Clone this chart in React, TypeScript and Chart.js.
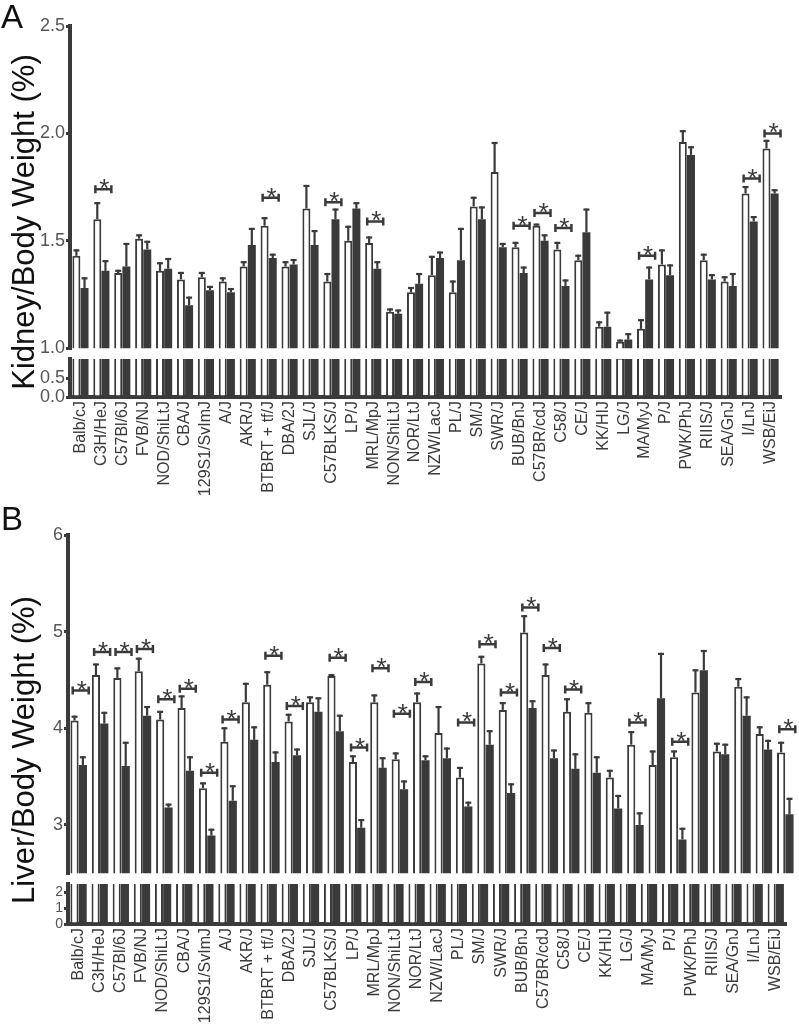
import React, { useEffect, useRef } from 'react';
import { Chart, registerables } from 'chart.js';
Chart.register(...registerables);

const strains = ['Balb/cJ','C3H/HeJ','C57Bl/6J','FVB/NJ','NOD/ShiLtJ','CBA/J','129S1/SvImJ','A/J','AKR/J','BTBRT + tf/J','DBA/2J','SJL/J','C57BLKS/J','LP/J','MRL/MpJ','NON/ShiLtJ','NOR/LtJ','NZW/LacJ','PL/J','SM/J','SWR/J','BUB/BnJ','C57BR/cdJ','C58/J','CE/J','KK/HIJ','LG/J','MA/MyJ','P/J','PWK/PhJ','RIIIS/J','SEA/GnJ','I/LnJ','WSB/EiJ'];

// Panel A: kidney / body weight (%)
const kidneyOpen = [1.43,1.60,1.35,1.51,1.36,1.32,1.33,1.31,1.38,1.57,1.38,1.65,1.31,1.50,1.49,1.17,1.26,1.34,1.26,1.66,1.82,1.47,1.57,1.46,1.41,1.10,1.03,1.09,1.39,1.96,1.41,1.31,1.72,1.93];
const kidneyOpenErr = [0.03,0.08,0.015,0.02,0.04,0.035,0.025,0.02,0.025,0.04,0.025,0.11,0.04,0.07,0.03,0.015,0.025,0.09,0.055,0.045,0.14,0.025,0.01,0.035,0.025,0.025,0.01,0.045,0.07,0.055,0.03,0.025,0.035,0.04];
const kidneyFilled = [1.28,1.36,1.38,1.46,1.37,1.20,1.27,1.26,1.48,1.42,1.39,1.48,1.60,1.65,1.37,1.16,1.30,1.42,1.41,1.60,1.47,1.35,1.50,1.29,1.54,1.10,1.04,1.32,1.34,1.90,1.32,1.29,1.59,1.72];
const kidneyFilledErr = [0.05,0.05,0.11,0.04,0.05,0.04,0.02,0.02,0.08,0.02,0.025,0.07,0.05,0.03,0.035,0.02,0.05,0.03,0.15,0.06,0.02,0.03,0.03,0.03,0.11,0.07,0.03,0.06,0.05,0.04,0.025,0.06,0.025,0.02];
const kidneySig = [null,1.74,null,null,null,null,null,null,null,1.70,null,null,1.68,null,1.59,null,null,null,null,null,null,1.57,1.63,1.56,null,null,null,1.43,null,null,null,null,1.79,2.00];
const kidneyUpperTicks = [1.0,1.5,2.0,2.5];
const kidneyLowerTicks = [0.0,0.5];

// Panel B: liver / body weight (%)
const liverOpen = [4.08,4.55,4.52,4.59,4.09,4.21,3.38,3.86,4.27,4.45,4.07,4.27,4.54,3.65,4.27,3.68,4.27,3.95,3.49,4.67,4.19,4.99,4.55,4.17,4.16,3.49,3.83,3.62,3.70,4.37,3.76,4.43,3.94,3.75];
const liverOpenErr = [0.05,0.12,0.11,0.14,0.09,0.13,0.06,0.15,0.20,0.14,0.08,0.06,0.02,0.07,0.08,0.07,0.10,0.28,0.11,0.08,0.08,0.18,0.12,0.14,0.11,0.08,0.14,0.15,0.07,0.24,0.09,0.09,0.08,0.11];
const liverFilled = [3.62,4.05,3.61,4.13,3.18,3.56,2.89,3.25,3.88,3.65,3.72,4.17,3.97,2.97,3.59,3.37,3.67,3.69,3.19,3.83,3.33,4.21,3.69,3.58,3.54,3.17,3.00,4.31,2.85,4.60,3.73,4.13,3.78,3.11];
const liverFilledErr = [0.09,0.12,0.25,0.10,0.04,0.15,0.07,0.16,0.14,0.11,0.07,0.15,0.17,0.09,0.11,0.09,0.05,0.11,0.05,0.15,0.10,0.08,0.09,0.16,0.17,0.14,0.13,0.47,0.12,0.21,0.11,0.20,0.10,0.17];
const liverSig = [4.39,4.79,4.79,4.82,4.30,4.41,3.54,4.09,null,4.75,4.23,null,4.73,3.80,4.62,4.15,4.48,null,4.06,4.87,4.37,5.25,4.83,4.40,null,null,4.06,null,3.86,null,null,null,null,3.99];
const liverUpperTicks = [3,4,5,6];
const liverLowerTicks = [0,1,2];

const INK = '#3a3a3a';
const FONT = "'Liberation Sans', Arial, sans-serif";

const annotPlugin = {
  id: 'annot',
  afterDatasetsDraw(chart: any, _args: any, opts: any) {
    if (!opts || !opts.enabled) return;
    const ctx = chart.ctx;
    const ys = chart.scales.y;
    const xs = chart.scales.x;
    ctx.save();
    ctx.strokeStyle = INK;
    ctx.fillStyle = INK;
    ctx.lineCap = 'butt';
    (opts.errors as number[][]).forEach((errs, di) => {
      const meta = chart.getDatasetMeta(di);
      const vals = chart.data.datasets[di].data as number[];
      meta.data.forEach((bar: any, i: number) => {
        const top = ys.getPixelForValue(vals[i]);
        const et = ys.getPixelForValue(vals[i] + errs[i]);
        ctx.lineWidth = 2.2;
        ctx.beginPath();
        ctx.moveTo(bar.x, top);
        ctx.lineTo(bar.x, et);
        ctx.stroke();
        ctx.lineWidth = 2.2;
        ctx.beginPath();
        ctx.moveTo(bar.x - 3, et + 1);
        ctx.lineTo(bar.x + 3, et + 1);
        ctx.stroke();
      });
    });
    (opts.sig as (number | null)[]).forEach((lv, i) => {
      if (lv == null) return;
      const cx = xs.getPixelForValue(i);
      const py = ys.getPixelForValue(lv);
      const x0 = cx - 6, x1 = cx + 10;
      ctx.lineWidth = 2.5;
      ctx.beginPath();
      ctx.moveTo(x0, py); ctx.lineTo(x1, py);
      ctx.moveTo(x0, py - 4); ctx.lineTo(x0, py + 4);
      ctx.moveTo(x1, py - 4); ctx.lineTo(x1, py + 4);
      ctx.stroke();
      ctx.font = `26px ${FONT}`;
      ctx.textAlign = 'center';
      ctx.textBaseline = 'alphabetic';
      ctx.fillText('*', (x0 + x1) / 2 + 1, py + 8);
    });
    ctx.restore();
  },
};

type PanelProps = {
  top: number; height: number; padTop: number; padBottom: number; padRight: number;
  yWidth: number; xHeight?: number; min: number; max: number; ticks: number[];
  tickSize: number; decimals: number; showX: boolean;
  open: number[]; filled: number[]; errs?: number[][]; sig?: (number | null)[];
};

function Panel(p: PanelProps) {
  const ref = useRef<HTMLCanvasElement>(null);
  useEffect(() => {
    if (!ref.current) return;
    const chart = new Chart(ref.current, {
      type: 'bar',
      data: {
        labels: strains,
        datasets: [
          { label: 'open', data: p.open, backgroundColor: '#ffffff', borderColor: INK, borderWidth: 2, borderSkipped: 'start', categoryPercentage: 0.78, barPercentage: 0.98, clip: 0 } as any,
          { label: 'filled', data: p.filled, backgroundColor: INK, borderColor: INK, borderWidth: 0, categoryPercentage: 0.78, barPercentage: 0.98, clip: 0 } as any,
        ],
      },
      options: {
        responsive: false,
        animation: false,
        devicePixelRatio: 1,
        layout: { padding: { top: p.padTop, bottom: p.padBottom, left: 0, right: p.padRight } },
        plugins: {
          legend: { display: false },
          tooltip: { enabled: false },
          annot: { enabled: !!p.errs, errors: p.errs || [], sig: p.sig || [] },
        } as any,
        scales: {
          x: {
            display: p.showX,
            grid: { display: false, drawTicks: false },
            border: { display: true, width: 4, color: INK },
            ticks: { autoSkip: false, maxRotation: 90, minRotation: 90, color: INK, padding: 4, font: { family: FONT, size: 16 } },
            afterFit: (s: any) => { if (p.xHeight) s.height = p.xHeight; },
          },
          y: {
            min: p.min,
            max: p.max,
            afterBuildTicks: (s: any) => { s.ticks = p.ticks.map((v) => ({ value: v })); },
            afterFit: (s: any) => { s.width = p.yWidth; },
            grid: { display: true, drawOnChartArea: false, drawTicks: true, tickLength: 4, color: INK, lineWidth: 3 },
            border: { display: true, width: 4, color: INK },
            ticks: { color: '#555', padding: 1, font: { family: FONT, size: p.tickSize }, callback: (v: any) => Number(v).toFixed(p.decimals) },
          },
        },
      },
      plugins: [annotPlugin],
    });
    return () => chart.destroy();
  }, []);
  return <canvas ref={ref} width={799} height={p.height} style={{ position: 'absolute', left: 0, top: p.top, width: 799, height: p.height }} />;
}

const titleStyle = (cx: number, cy: number): React.CSSProperties => ({
  position: 'absolute', left: cx, top: cy, transform: 'translate(-50%, -50%) rotate(-90deg)',
  whiteSpace: 'nowrap', fontFamily: FONT, fontSize: 31, color: '#111', lineHeight: 1,
});

export default function App() {
  return (
    <div style={{ position: 'absolute', left: 0, top: 0, width: 799, height: 1034, overflow: 'hidden', background: '#fff' }}>
      <Panel top={0} height={360} padTop={26} padBottom={11} padRight={18} yWidth={70} min={1.0} max={2.5} ticks={kidneyUpperTicks} tickSize={18} decimals={1} showX={false}
        open={kidneyOpen} filled={kidneyFilled} errs={[kidneyOpenErr, kidneyFilledErr]} sig={kidneySig} />
      <Panel top={340} height={170} padTop={19} padBottom={0} padRight={18} yWidth={70} xHeight={113} min={0} max={1.0} ticks={kidneyLowerTicks} tickSize={18} decimals={1} showX={true}
        open={kidneyOpen} filled={kidneyFilled} />
      <Panel top={505} height={380} padTop={30} padBottom={10} padRight={3} yWidth={68} min={2.5} max={6} ticks={liverUpperTicks} tickSize={18} decimals={0} showX={false}
        open={liverOpen} filled={liverFilled} errs={[liverOpenErr, liverFilledErr]} sig={liverSig} />
      <Panel top={870} height={164} padTop={14} padBottom={0} padRight={3} yWidth={68} xHeight={110} min={0} max={2.5} ticks={liverLowerTicks} tickSize={14} decimals={0} showX={true}
        open={liverOpen} filled={liverFilled} />
      <div style={{ position: 'absolute', left: 1, top: 0, fontFamily: FONT, fontSize: 33, lineHeight: 1, color: '#111' }}>A</div>
      <div style={{ position: 'absolute', left: 1, top: 502, fontFamily: FONT, fontSize: 33, lineHeight: 1, color: '#111' }}>B</div>
      <div style={titleStyle(23, 222)}>Kidney/Body Weight (%)</div>
      <div style={titleStyle(23, 750)}>Liver/Body Weight (%)</div>
    </div>
  );
}
